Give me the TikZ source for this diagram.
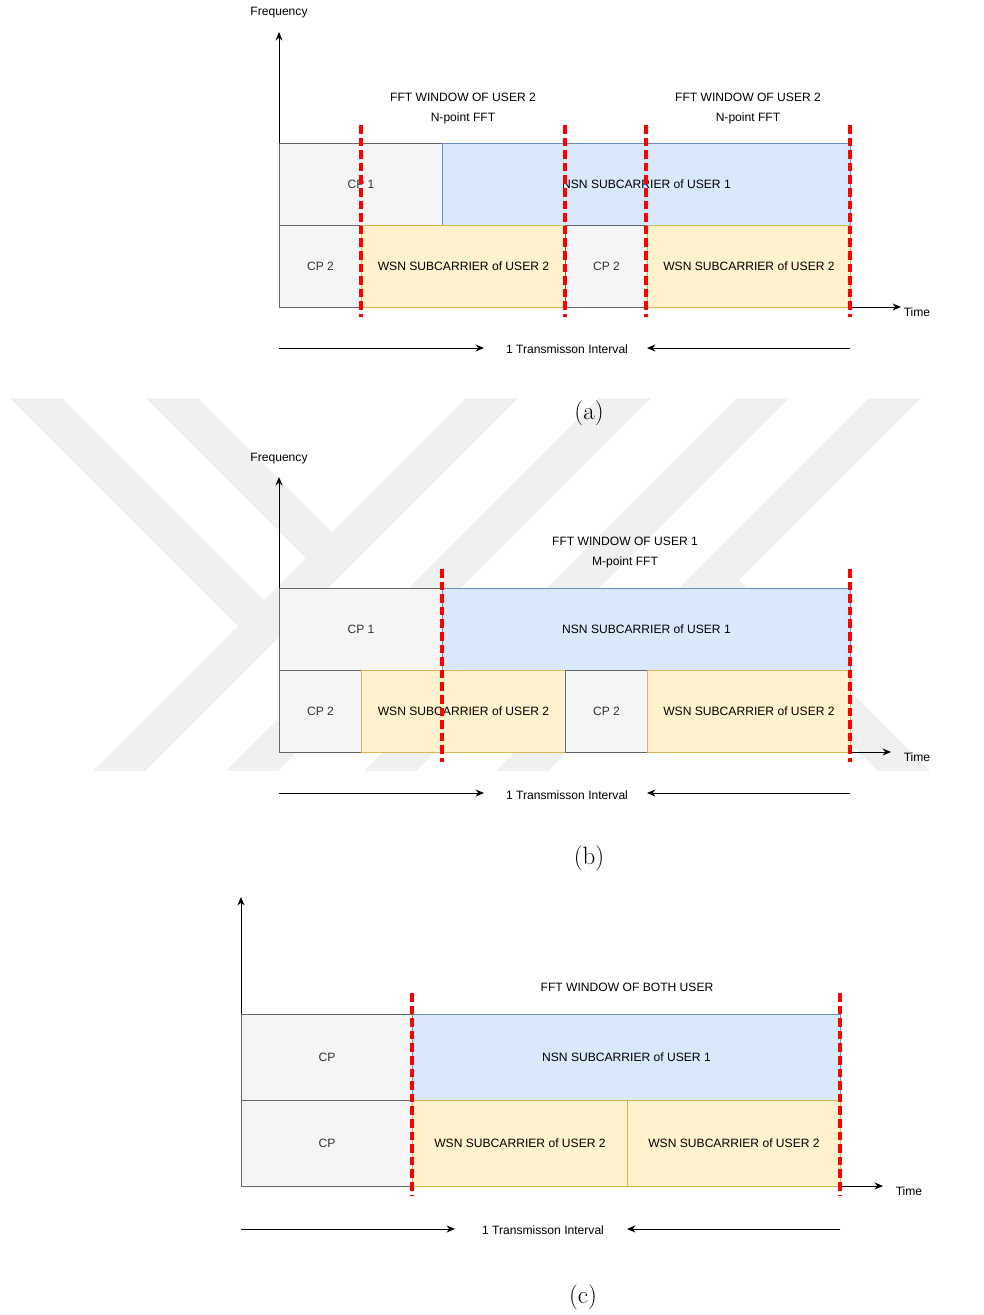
\documentclass[tikz,border=0pt]{standalone}
\usepackage{fontspec}
\newfontfamily\drawiofont{Liberation Sans}
\usetikzlibrary{arrows.meta,positioning}
\definecolor{CPFill}{HTML}{F5F5F5}
\definecolor{CPLine}{HTML}{666666}
\definecolor{CPText}{HTML}{333333}
\definecolor{NSNFill}{HTML}{DAE8FC}
\definecolor{NSNLine}{HTML}{6C8EBF}
\definecolor{WSNFill}{HTML}{FFF2CC}
\definecolor{WSNLine}{HTML}{D6B656}
\definecolor{WMark}{HTML}{F0F0F0}
\def\pxu{0.025cm}

\begin{document}
\begin{tikzpicture}[
    x=0.025cm, y=-0.025cm,
    font=\drawiofont\fontsize{8.6}{10}\selectfont,
    cell/.style 2 args={draw, line width=0.7pt, inner sep=0pt, anchor=north west,
        minimum width=#1*\pxu, minimum height=#2*\pxu},
    cp/.style={fill=CPFill, draw=CPLine, text=CPText},
    nsn/.style={fill=NSNFill, draw=NSNLine},
    wsn/.style={fill=WSNFill, draw=WSNLine},
    cut/.style={red, line width=2.2pt, dash pattern=on 0.215cm off 0.1cm},
    axis/.style={-{Stealth[length=6pt,width=5pt]}, line width=0.7pt},
    span/.style={-{Stealth[length=6pt,width=5pt]}, line width=0.7pt},
    capt/.style={font=\rmfamily\fontsize{17.8}{20}\selectfont},
    band/.style={WMark, line width=37*\pxu}
 ]
\useasboundingbox (0,0) rectangle (984,1315);

% watermark
\begin{scope}
    \clip (0,398) rectangle (984,770);
    \foreach \t in {492,625,763,895} {
        \draw [band] (\t+30,368) -- (\t-402,800);
    }
    \draw [band] (6,368) -- (264,626);
    \draw [band] (142,368) -- (332,558);
    \draw [band] (713,580) -- (963,830);
\end{scope}

% (a)
\coordinate (oA) at (279,307);
\coordinate (fA) at (279,32);
\coordinate (tA) at (901,307);
\draw[axis] (oA) -- (fA);
\draw[axis] (oA) -- (tA);
\node (freqA) at (279,13) {Frequency};
\node (timeA) at (917,312) {Time};

\node[cell={163}{82}, cp] (cpOneA) at (279,143) {CP 1};
\node[cell={408}{82}, nsn] (nsnA) at (442,143) {NSN SUBCARRIER of USER 1};
\node[cell={82}{82}, cp] (cpTwoA) at (279,225) {CP 2};
\node[cell={204}{82}, wsn] (wsnA) at (361,225) {WSN SUBCARRIER of USER 2};
\node[cell={82}{82}, cp] (cpThreeA) at (565,225) {CP 2};
\node[cell={203}{82}, wsn] (wsnBA) at (647,225) {WSN SUBCARRIER of USER 2};

\foreach \i in {361,565,646,850} {
    \draw [cut] (\i,125) -- (\i,317);
}
\node (winA) at (463,97) {FFT WINDOW OF USER 2};
\node (nfftA) at (463,118) {N-point FFT};
\node (winBA) at (748,97) {FFT WINDOW OF USER 2};
\node (nfftBA) at (748,118) {N-point FFT};

\coordinate (lsA) at (279,348);
\coordinate (leA) at (484,348);
\coordinate (rsA) at (850,348);
\coordinate (reA) at (647,348);
\draw[span] (lsA) -- (leA);
\draw[span] (rsA) -- (reA);
\node (ivlA) at (567,349) {1 Transmisson Interval};
\node[capt] (captA) at (589,413) {(a)};

% (b)
\coordinate (oB) at (279,752);
\coordinate (fB) at (279,477);
\coordinate (tB) at (891,752);
\draw[axis] (oB) -- (fB);
\draw[axis] (oB) -- (tB);
\node (freqB) at (279,459) {Frequency};
\node (timeB) at (917,757) {Time};

\node[cell={163}{82}, cp] (cpOneB) at (279,588) {CP 1};
\node[cell={408}{82}, nsn] (nsnB) at (442,588) {NSN SUBCARRIER of USER 1};
\node[cell={82}{82}, cp] (cpTwoB) at (279,670) {CP 2};
\node[cell={204}{82}, wsn] (wsnB) at (361,670) {WSN SUBCARRIER of USER 2};
\node[cell={82}{82}, cp] (cpThreeB) at (565,670) {CP 2};
\node[cell={203}{82}, wsn] (wsnBB) at (647,670) {WSN SUBCARRIER of USER 2};

\foreach \i in {442,850} {
    \draw [cut] (\i,569) -- (\i,762);
}
\node (winB) at (625,541) {FFT WINDOW OF USER 1};
\node (mfftB) at (625,562) {M-point FFT};

\coordinate (lsB) at (279,793);
\coordinate (leB) at (484,793);
\coordinate (rsB) at (850,793);
\coordinate (reB) at (647,793);
\draw[span] (lsB) -- (leB);
\draw[span] (rsB) -- (reB);
\node (ivlB) at (567,795) {1 Transmisson Interval};
\node[capt] (captB) at (589,858) {(b)};

% (c)
\coordinate (oC) at (241,1186);
\coordinate (fC) at (241,897);
\coordinate (tC) at (883,1186);
\draw[axis] (oC) -- (fC);
\draw[axis] (oC) -- (tC);
\node (timeC) at (909,1191) {Time};

\node[cell={171}{86}, cp] (cpOneC) at (241,1014) {CP};
\node[cell={428}{86}, nsn] (nsnC) at (412,1014) {NSN SUBCARRIER of USER 1};
\node[cell={171}{86}, cp] (cpTwoC) at (241,1100) {CP};
\node[cell={215}{86}, wsn] (wsnC) at (412,1100) {WSN SUBCARRIER of USER 2};
\node[cell={213}{86}, wsn] (wsnBC) at (627,1100) {WSN SUBCARRIER of USER 2};

\foreach \i in {412,840} {
    \draw [cut] (\i,993) -- (\i,1196);
}
\node (winC) at (627,987) {FFT WINDOW OF BOTH USER};

\coordinate (lsC) at (241,1229);
\coordinate (leC) at (455,1229);
\coordinate (rsC) at (840,1229);
\coordinate (reC) at (627,1229);
\draw[span] (lsC) -- (leC);
\draw[span] (rsC) -- (reC);
\node (ivlC) at (543,1230) {1 Transmisson Interval};
\node[capt] (captC) at (583,1297) {(c)};

\end{tikzpicture}
\end{document}
